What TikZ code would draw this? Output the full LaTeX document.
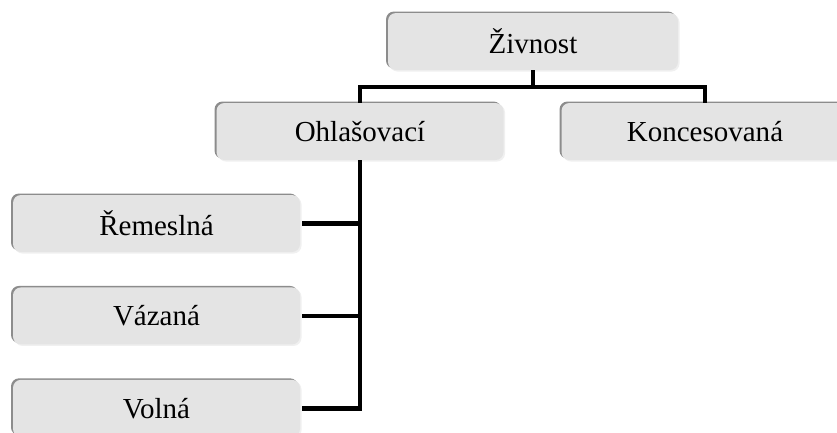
\documentclass[tikz,border=0pt]{standalone}
\usepackage{fontspec}
\setmainfont{Liberation Serif}
\usepackage{xcolor}
\usetikzlibrary{positioning,calc}
\definecolor{boxfill}{HTML}{E4E4E4}
\definecolor{bevel}{HTML}{8C8C8C}
\definecolor{shade}{HTML}{F0F0F0}

\begin{document}
\begin{tikzpicture}[
        x=1pt, y=-1pt,
        node distance=35pt,
        box/.style={rectangle, rounded corners=8pt, fill=boxfill, text width=270pt, align=center,
            minimum width=287pt, minimum height=57pt, inner sep=0pt,
            font=\fontsize{29}{34}\selectfont,
            preaction={fill=shade, transform canvas={shift={(1.5pt,-1.5pt)}}},
            preaction={fill=bevel, transform canvas={shift={(-2pt,1.5pt)}}}},
        link/.style={line width=4.5pt, black}
    ]
        \clip (0,0) rectangle (837,432);
        \fill[white] (0,0) rectangle (837,432);

        \node[box, minimum width=290pt] (zivnost) at (533,41.5) {Živnost};
        \node[box] (ohlasovaci) at (360,131.5) {Ohlašovací};
        \node[box] (koncesovana) at (705,131.5) {Koncesovaná};
        \node[box] (remeslna) at (156.5,223.5) {Řemeslná};
        \node[box, below=of remeslna] (vazana) {Vázaná};
        \node[box, below=of vazana] (volna) {Volná};

        \draw[link] (zivnost.south) -- ++(0,16);
        \draw[link] (ohlasovaci.north) -- ++(0,-16) -| (koncesovana.north);
        \draw[link] (ohlasovaci.south) |- ([xshift=2pt]volna.east);
        \draw[link] ([xshift=2pt]remeslna.east) -- (remeslna.east -| ohlasovaci.south);
        \draw[link] ([xshift=2pt]vazana.east) -- (vazana.east -| ohlasovaci.south);
    \end{tikzpicture}
\end{document}
